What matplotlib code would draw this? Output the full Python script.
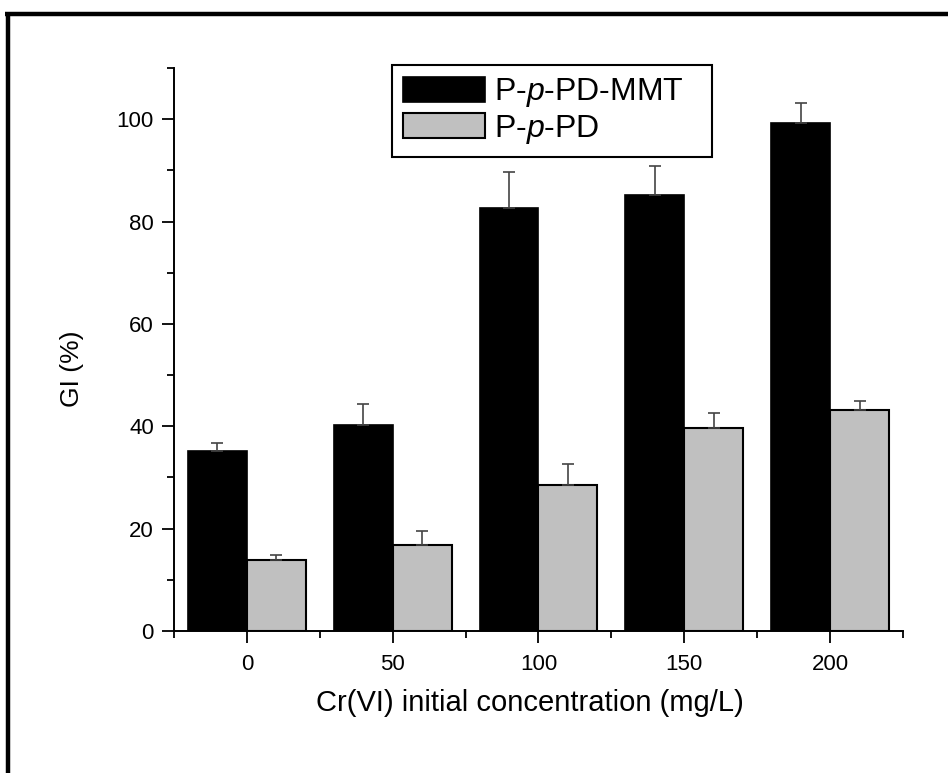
import matplotlib
matplotlib.use("Agg")
import matplotlib.pyplot as plt
from matplotlib.lines import Line2D
from matplotlib.ticker import MultipleLocator, FixedLocator
import numpy as np

plt.rcParams['font.family'] = ['Liberation Sans', 'DejaVu Sans']
plt.rcParams['mathtext.fontset'] = 'custom'
plt.rcParams['mathtext.rm'] = 'Liberation Sans'
plt.rcParams['mathtext.it'] = 'Liberation Sans:italic'

categories = ['0', '50', '100', '150', '200']
mmt_values = [35.2, 40.3, 82.6, 85.1, 99.2]
mmt_errors = [1.5, 4.1, 7.0, 5.7, 3.9]
ppd_values = [13.8, 16.9, 28.6, 39.6, 43.2]
ppd_errors = [1.1, 2.7, 4.1, 2.9, 1.7]
labels = ['P-$\\mathit{p}$-PD-MMT', 'P-$\\mathit{p}$-PD']
xlabel = 'Cr(VI) initial concentration (mg/L)'
ylabel = 'GI (%)'

fig = plt.figure(figsize=(9.48, 7.73), dpi=100)
ax = fig.add_axes([0.1835, 0.1837, 0.769, 0.7283])

x = np.arange(len(categories))
w = 0.404
err_kw = dict(ecolor='#444444', elinewidth=1.2, capsize=4, capthick=1.2)
ax.bar(x - w / 2, mmt_values, w, color='black', edgecolor='black', linewidth=1.2,
       yerr=[np.zeros(len(mmt_errors)), mmt_errors], error_kw=err_kw, label=labels[0])
ax.bar(x + w / 2, ppd_values, w, color='#c0c0c0', edgecolor='black', linewidth=1.5,
       yerr=[np.zeros(len(ppd_errors)), ppd_errors], error_kw=err_kw, label=labels[1])

ax.set_xlim(-0.5, 4.5)
ax.set_ylim(0, 110)
ax.set_xticks(x)
ax.set_xticklabels(categories)
ax.xaxis.set_minor_locator(FixedLocator(np.arange(-0.5, 4.6, 1.0)))
ax.yaxis.set_major_locator(MultipleLocator(20))
ax.yaxis.set_minor_locator(MultipleLocator(10))
ax.tick_params(axis='both', which='major', direction='out', length=8.5, width=1.3, labelsize=16, pad=6)
ax.tick_params(axis='both', which='minor', direction='out', length=5, width=1.3)
ax.tick_params(axis='x', which='major', pad=8)

for s in ['top', 'right']:
    ax.spines[s].set_visible(False)
for s in ['left', 'bottom']:
    ax.spines[s].set_linewidth(1.4)

ax.set_xlabel(xlabel, fontsize=21)
ax.set_ylabel(ylabel, fontsize=19)
ax.xaxis.set_label_coords(0.488, -0.103)
ax.yaxis.set_label_coords(-0.123, 0.465)

leg = ax.legend(loc='upper left', bbox_to_anchor=(0.299, 1.005, 0.439, 0.0), mode='expand',
                fontsize=23, frameon=True,
                fancybox=False, edgecolor='black', framealpha=1, handlelength=2.56,
                handleheight=0.85, handletextpad=0.3, labelspacing=0.1, borderpad=0.35,
                borderaxespad=0)
leg.get_frame().set_linewidth(1.5)

# outer frame (top and left edges visible)
fig.add_artist(Line2D([0.0055, 1.0], [1 - 13.5 / 773, 1 - 13.5 / 773], color='black', lw=3.2,
                      transform=fig.transFigure, solid_capstyle='butt'))
fig.add_artist(Line2D([7.5 / 948, 7.5 / 948], [0.0, 1 - 11.5 / 773], color='black', lw=3.2,
                      transform=fig.transFigure, solid_capstyle='butt'))

fig.savefig('out.png', dpi=100)
